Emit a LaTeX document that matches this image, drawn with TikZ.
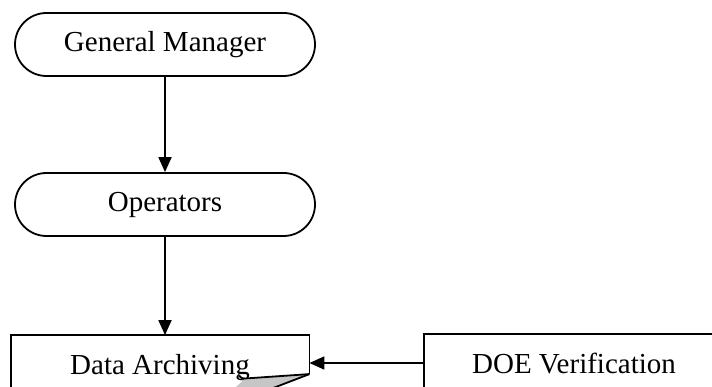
\documentclass[tikz,border=0pt]{standalone}
\usepackage{fontspec}
\setmainfont{Liberation Serif}
\usetikzlibrary{arrows.meta}
\begin{document}
\begin{tikzpicture}[x=1pt,y=-1pt,
  line width=1.8pt,
  every node/.style={font=\fontsize{29}{32}\selectfont},
  stadium/.style={draw, rounded corners=31.5pt, minimum width=300pt, minimum height=63pt, inner sep=0pt},
  boxnode/.style={minimum width=297pt, minimum height=56pt, inner sep=0pt, text depth=0pt},
  arr/.style={-{Triangle[length=15pt,width=13pt]}},
  curl/.style={fill=gray!45}]
\useasboundingbox (0,0) rectangle (712,387);
\clip (0,0) rectangle (712,387);
\node[stadium] (gm) at (165,44.5) {General Manager};
\node[stadium] (op) at (165,204.5) {Operators};
\node[boxnode] (da) at (160,364) {Data Archiving};
\node[boxnode, draw, minimum width=300pt, minimum height=58pt] (doe) at (574,363) {DOE Verification};
\coordinate (c1) at ([yshift=-39pt]da.north east);
\coordinate (c2) at (245,378.5);
\coordinate (c3) at (239,375.5);
\coordinate (c4) at (268,390);
\coordinate (c5) at (233,390);
\draw (da.south west) -- (da.north west) -- (da.north east) -- (c1);
\fill[curl] (c2) -- (c1) -- (c4) -- (c5) -- cycle;
\draw (c1) -- (c2) .. controls (241,378) .. (c3);
\draw (c1) -- (c4);
\draw[arr] (gm) -- (op);
\draw[arr] (op.south) -- (op.south |- da.north);
\draw[arr] (doe.west) -- (doe.west -| da.east);
\end{tikzpicture}
\end{document}
